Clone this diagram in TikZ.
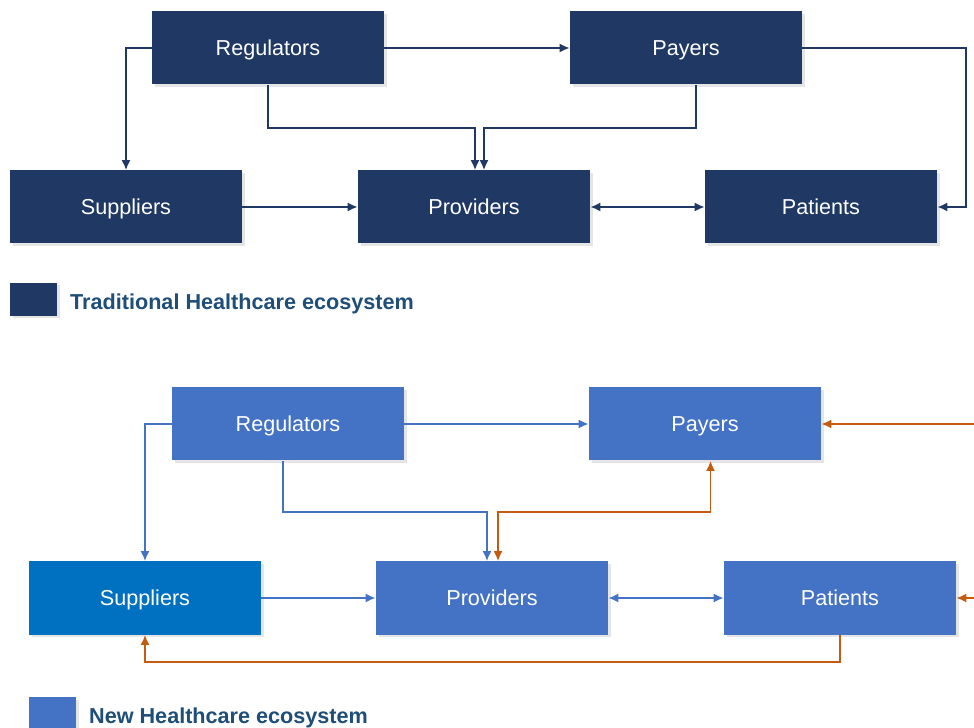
\documentclass[tikz,border=0pt]{standalone}
\usepackage{fontspec}
\setmainfont{Liberation Sans}
\usepackage{xcolor}
\usetikzlibrary{arrows.meta, shadows}

\definecolor{navy}{HTML}{1F3864}
\definecolor{midblue}{HTML}{4472C4}
\definecolor{brightblue}{HTML}{0070C0}
\definecolor{rust}{HTML}{C55A11}
\definecolor{legendtext}{HTML}{1F4E79}

\begin{document}
\begin{tikzpicture}[
        box/.style={rectangle, minimum width=4.64cm, minimum height=1.46cm, inner sep=0pt,
                    text=white, font=\fontsize{12.3}{14}\selectfont,
                    text height=8.8pt, text depth=0pt,
                    drop shadow={shadow xshift=0.05cm, shadow yshift=-0.05cm, opacity=0.2}},
        oldbox/.style={box, fill=navy},
        newbox/.style={box, fill=midblue},
        keybox/.style={rectangle, minimum width=0.94cm, minimum height=0.66cm, inner sep=0pt,
                    drop shadow={shadow xshift=0.05cm, shadow yshift=-0.05cm, opacity=0.2}},
        tip/.tip={Latex[length=2mm, width=1.8mm]},
        link/.style={line width=1pt, -tip},
        twoway/.style={line width=1pt, tip-tip},
        legend/.style={anchor=west, text=legendtext, text height=8.8pt, text depth=0pt,
                    font=\bfseries\fontsize{12.3}{14}\selectfont}
    ]
        \useasboundingbox[fill=white] (0,0) rectangle (19.48,-14.56);

        % Traditional ecosystem
        \node[oldbox] (reg) at (5.36,-0.96) {Regulators};
        \node[oldbox] (pay) at (13.72,-0.96) {Payers};
        \node[oldbox] (sup) at (2.52,-4.14) {Suppliers};
        \node[oldbox] (pro) at (9.48,-4.14) {Providers};
        \node[oldbox] (pat) at (16.42,-4.14) {Patients};

        \begin{scope}[navy]
            \draw[link] (reg) -- (pay);
            \draw[link] (reg.west) -| (sup.north);
            \draw[link] (reg.south) -- ++(0,-0.87) -| ([xshift=0.02cm]pro.north);
            \draw[link] ([xshift=0.2cm]pay.south) -- ++(0,-0.87) -| ([xshift=0.2cm]pro.north);
            \draw[link] (pay.east) -- ++(3.28,0) |- (pat.east);
            \draw[link] (sup) -- (pro);
            \draw[twoway] (pro) -- (pat);
        \end{scope}

        % Legend (traditional)
        \node[keybox, fill=navy] (key1) at (0.67,-5.99) {};
        \node[legend] (lab1) at (1.28,-6.04) {Traditional Healthcare ecosystem};

        % New ecosystem
        \node[newbox] (reg2) at (5.76,-8.48) {Regulators};
        \node[newbox] (pay2) at (14.1,-8.48) {Payers};
        \node[box, fill=brightblue] (sup2) at (2.9,-11.96) {Suppliers};
        \node[newbox] (pro2) at (9.84,-11.96) {Providers};
        \node[newbox] (pat2) at (16.8,-11.96) {Patients};

        % free ends at the right border
        \coordinate (inpay) at (19.48,-8.48);
        \coordinate (inpat) at (19.48,-11.96);

        \begin{scope}[midblue]
            \draw[link] (reg2) -- (pay2);
            \draw[link] (reg2.west) -| (sup2.north);
            \draw[link] ([xshift=-0.1cm]reg2.south) -- ++(0,-1.03) -| ([xshift=-0.1cm]pro2.north);
            \draw[link] (sup2) -- (pro2);
            \draw[twoway] (pro2) -- (pat2);
        \end{scope}

        \begin{scope}[rust]
            \draw[twoway] ([xshift=0.12cm]pro2.north) -- ++(0,0.99) -| ([xshift=0.11cm]pay2.south);
            \draw[link] (pat2.south) -- ++(0,-0.54) -| (sup2.south);
            \draw[link] (inpay) -- (pay2.east);
            \draw[link] (inpat) -- (pat2.east);
        \end{scope}

        % Legend (new)
        \node[keybox, fill=midblue] (key2) at (1.05,-14.27) {};
        \node[legend] (lab2) at (1.66,-14.32) {New Healthcare ecosystem};
    \end{tikzpicture}
\end{document}
